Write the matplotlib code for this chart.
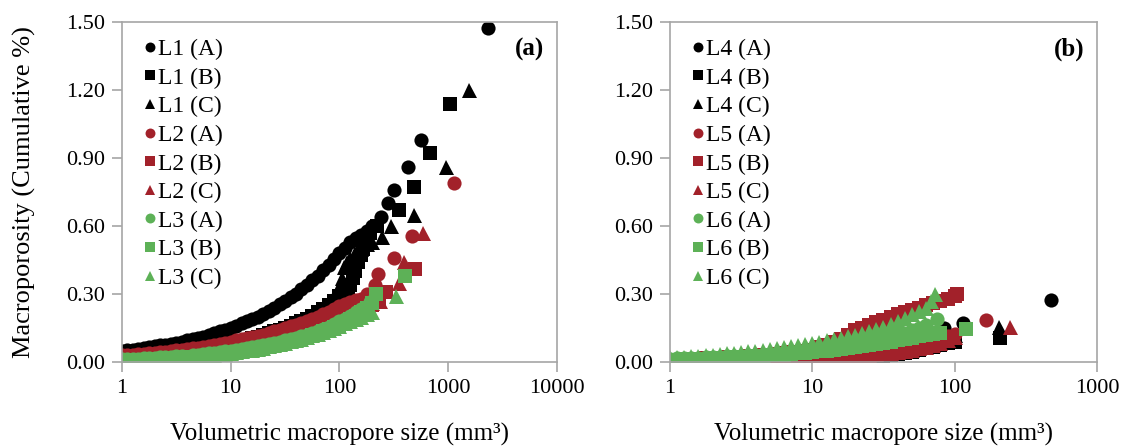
import matplotlib
matplotlib.use("Agg")
import matplotlib.pyplot as plt

plt.rcParams['font.family'] = ['Liberation Serif', 'DejaVu Serif']

# shared size grid (mm3) for the dense part of each curve
grid = [1, 1.12, 1.26, 1.41, 1.58, 1.78, 2, 2.24, 2.51, 2.82, 3.16, 3.55, 3.98, 4.47,
        5.01, 5.62, 6.31, 7.08, 7.94, 8.91, 10, 11.2, 12.6, 14.1, 15.8, 17.8, 20, 22.4,
        25.1, 28.2, 31.6, 35.5, 39.8, 44.7, 50.1, 56.2, 63.1, 70.8, 79.4, 89.1, 100,
        112, 126, 141, 158, 178, 200]

# ---- panel (a)
l1a_y = [.05, .052, .055, .058, .062, .066, .07, .073, .077, .081, .085, .09, .095, .10,
         .105, .112, .12, .127, .135, .142, .15, .16, .17, .18, .19, .20, .21, .225, .24,
         .255, .27, .285, .30, .32, .34, .36, .38, .405, .43, .455, .48, .505, .53, .545,
         .56, .58, .60]
l1a_tx = [240, 277, 315, 430, 565, 2340]
l1a_ty = [0.64, 0.70, 0.76, 0.86, 0.98, 1.475]

l1b_y = [.02, .022, .024, .026, .028, .03, .032, .035, .037, .04, .042, .045, .048, .051,
         .055, .059, .063, .067, .072, .077, .082, .087, .093, .099, .105, .112, .12, .127,
         .135, .142, .15, .16, .17, .18, .19, .205, .22, .235, .25, .27, .29]
l1b_tx = [112, 119, 126, 133, 140, 149, 158, 166, 173, 180, 190, 220, 350, 480, 680, 1035]
l1b_ty = [.31, .32, .34, .37, .40, .44, .47, .50, .52, .55, .57, .60, .67, .77, .92, 1.14]

l1c_y = [.02, .021, .023, .025, .027, .029, .031, .033, .036, .038, .041, .044, .047, .05,
         .054, .058, .062, .066, .071, .076, .081, .086, .092, .098, .104, .111, .118, .125,
         .133, .141, .15, .16, .17, .182, .195, .21, .225, .24, .26, .29, .33]
l1c_tx = [105, 110, 118, 126, 140, 158, 180, 200, 245, 300, 480, 950, 1550]
l1c_ty = [.37, .42, .44, .46, .48, .50, .52, .53, .55, .60, .65, .86, 1.20]

l2a_y = [.03, .031, .033, .035, .037, .039, .041, .043, .046, .048, .051, .054, .057, .06,
         .064, .068, .072, .076, .081, .085, .09, .095, .10, .105, .11, .115, .12, .127,
         .135, .142, .15, .157, .165, .172, .18, .19, .20, .21, .22, .232, .245, .255,
         .265, .272, .28]
l2a_tx = [180, 213, 228, 315, 460, 1120]
l2a_ty = [.30, .34, .39, .46, .555, .79]

l2b_y = [.02, .021, .023, .025, .027, .029, .031, .033, .035, .037, .04, .042, .045, .048,
         .051, .054, .058, .062, .066, .07, .075, .08, .085, .09, .095, .10, .105, .111,
         .117, .123, .13, .137, .145, .152, .16, .167, .175, .182, .19, .197, .205, .212,
         .22, .227, .235, .242, .25]
l2b_tx = [230, 270, 490]
l2b_ty = [.28, .31, .41]

l2c_y = [.02, .022, .024, .026, .028, .03, .033, .035, .038, .04, .043, .046, .049, .052,
         .056, .06, .064, .068, .073, .078, .083, .088, .094, .10, .106, .112, .118, .124,
         .13, .136, .143, .15, .157, .164, .172, .18, .188, .196, .205, .212, .22, .227,
         .235, .242, .25, .255, .26]
l2c_tx = [235, 350, 390, 590]
l2c_ty = [.27, .35, .44, .57]

l3a_y = [.012, .013, .014, .015, .016, .018, .019, .02, .022, .023, .025, .027, .0, .031,
         .033, .035, .038, .041, .044, .047, .05, .053, .057, .061, .065, .069, .074, .079,
         .084, .089, .095, .101, .107, .113, .12, .127, .135, .145, .155, .167, .18, .192,
         .205, .22, .235]
l3a_tx = [190]
l3a_ty = [.265]

l3b_y = [.005, .006, .007, .008, .009, .01, .011, .012, .014, .015, .017, .018, .02, .022,
         .024, .026, .028, .03, .033, .036, .039, .042, .046, .05, .054, .058, .063, .068,
         .073, .078, .084, .09, .096, .103, .11, .117, .125, .135, .145, .155, .165, .177,
         .19, .205, .22, .24, .26]
l3b_tx = [215, 400]
l3b_ty = [.30, .38]

l3c_y = [.005, .006, .007, .008, .009, .01, .011, .012, .014, .015, .017, .018, .02, .022,
         .024, .027, .029, .031, .034, .037, .04, .043, .047, .051, .055, .059, .064, .069,
         .074, .079, .085, .091, .097, .103, .11, .117, .125, .132, .14, .15, .16, .17,
         .18, .19, .20, .21, .22]
l3c_tx = [333]
l3c_ty = [.29]

# ---- panel (b)
l4a_y = [0, 0, 0, 0, .001, .001, .001, .002, .002, .002, .003, .003, .004, .004, .005,
         .006, .007, .008, .009, .01, .012, .014, .016, .018, .021, .024, .027, .03, .034,
         .038, .043, .048, .055, .062, .07, .08, .09]
l4a_tx = [72, 84, 114, 475]
l4a_ty = [.12, .15, .17, .275]

l4b_y = [0, 0, 0, 0, 0, 0, .001, .001, .001, .001, .002, .002, .002, .003, .003, .003,
         .004, .004, .005, .005, .006, .007, .008, .01, .011, .013, .015, .017, .02, .023,
         .026, .03, .034, .039, .045, .052, .06, .067, .075, .082, .09]
l4b_tx = [209]
l4b_ty = [.105]

l4c_y = [0, 0, 0, .001, .001, .001, .002, .002, .003, .003, .004, .004, .005, .005, .006,
         .007, .008, .009, .01, .011, .012, .013, .015, .017, .019, .022, .025, .028, .032,
         .036, .041, .046, .052, .058, .066, .075, .085, .095, .105, .112, .12]
l4c_tx = [204]
l4c_ty = [.156]

l5a_y = [.005, .005, .006, .006, .007, .008, .009, .01, .011, .012, .013, .014, .015, .016,
         .018, .019, .021, .022, .024, .026, .028, .03, .032, .034, .037, .04, .043, .046,
         .05, .054, .058, .062, .067, .072, .078, .084, .09, .097, .105, .115, .125]
l5a_tx = [165]
l5a_ty = [.185]

l5b_y = [.01, .011, .012, .013, .014, .016, .017, .019, .02, .022, .024, .026, .028, .03,
         .033, .036, .039, .042, .046, .05, .055, .065, .075, .087, .10, .12, .14, .152,
         .165, .175, .185, .197, .21, .22, .23, .24, .25, .26, .27, .28, .29]
l5b_tx = [104]
l5b_ty = [.30]

l5c_y = [.003, .003, .004, .004, .005, .005, .006, .006, .007, .007, .008, .009, .01, .01,
         .011, .012, .013, .014, .015, .016, .017, .018, .02, .021, .023, .025, .027, .03,
         .032, .035, .038, .041, .045, .05, .055, .061, .068, .076, .085, .097, .11]
l5c_tx = [245]
l5c_ty = [.155]

l6a_y = [.015, .016, .017, .018, .019, .02, .022, .023, .025, .026, .028, .03, .032, .0,
         .036, .038, .041, .044, .047, .05, .054, .058, .062, .066, .071, .076, .081, .086,
         .092, .098, .104, .112, .12, .13, .14, .152, .165]
l6a_tx = [75]
l6a_ty = [.19]

l6b_y = [.01, .011, .012, .013, .014, .015, .016, .017, .019, .02, .022, .023, .025, .027,
         .029, .031, .033, .035, .038, .041, .044, .047, .05, .053, .057, .061, .065, .069,
         .074, .079, .084, .089, .095, .101, .107, .113, .12, .125, .13]
l6b_tx = [120]
l6b_ty = [.145]

l6c_y = [.02, .022, .024, .026, .028, .031, .033, .036, .038, .041, .044, .047, .05, .054,
         .057, .061, .065, .07, .074, .079, .084, .09, .095, .101, .107, .113, .12, .127,
         .135, .145, .155, .167, .18, .195, .21, .225, .24]
l6c_tx = [68, 73]
l6c_ty = [.27, .30]

yticks = [0.0, 0.3, 0.6, 0.9, 1.2, 1.5]

BLACK = "black"
RED = "#a2212a"
GREEN = "#5db157"
GRAY = "#a6a6a6"

panel_a = [
    ("L1 (A)", l1a_y, l1a_tx, l1a_ty, BLACK, "o"),
    ("L1 (B)", l1b_y, l1b_tx, l1b_ty, BLACK, "s"),
    ("L1 (C)", l1c_y, l1c_tx, l1c_ty, BLACK, "^"),
    ("L2 (A)", l2a_y, l2a_tx, l2a_ty, RED, "o"),
    ("L2 (B)", l2b_y, l2b_tx, l2b_ty, RED, "s"),
    ("L2 (C)", l2c_y, l2c_tx, l2c_ty, RED, "^"),
    ("L3 (A)", l3a_y, l3a_tx, l3a_ty, GREEN, "o"),
    ("L3 (B)", l3b_y, l3b_tx, l3b_ty, GREEN, "s"),
    ("L3 (C)", l3c_y, l3c_tx, l3c_ty, GREEN, "^"),
]
panel_b = [
    ("L4 (A)", l4a_y, l4a_tx, l4a_ty, BLACK, "o"),
    ("L4 (B)", l4b_y, l4b_tx, l4b_ty, BLACK, "s"),
    ("L4 (C)", l4c_y, l4c_tx, l4c_ty, BLACK, "^"),
    ("L5 (A)", l5a_y, l5a_tx, l5a_ty, RED, "o"),
    ("L5 (B)", l5b_y, l5b_tx, l5b_ty, RED, "s"),
    ("L5 (C)", l5c_y, l5c_tx, l5c_ty, RED, "^"),
    ("L6 (A)", l6a_y, l6a_tx, l6a_ty, GREEN, "o"),
    ("L6 (B)", l6b_y, l6b_tx, l6b_ty, GREEN, "s"),
    ("L6 (C)", l6c_y, l6c_tx, l6c_ty, GREEN, "^"),
]

msize = {"o": 10.2, "s": 9.4, "^": 10.8}


def draw_panel(ax, series, xmax, tag):
    for label, ys, tx, ty, color, mk in series:
        xs = grid[:len(ys)] + tx
        ax.plot(xs, list(ys) + ty, ls="none", marker=mk, ms=msize[mk],
                color=color, mew=0, label=label)
    ax.set_xscale("log")
    ax.set_xlim(1, xmax)
    ax.set_ylim(0, 1.5)
    ax.set_yticks(yticks)
    ax.set_yticklabels(["%.2f" % v for v in yticks])
    ax.minorticks_off()
    ax.xaxis.set_major_formatter(matplotlib.ticker.FuncFormatter(lambda v, p: "%d" % v))
    for s in ax.spines.values():
        s.set_color(GRAY)
        s.set_linewidth(1.2)
    ax.tick_params(axis="both", direction="out", length=7, width=1.2, color=GRAY,
                   labelsize=16, pad=5)
    ax.set_xlabel("Volumetric macropore size (mm³)", fontsize=18, labelpad=18)
    ax.text(0.97, 0.92, tag, transform=ax.transAxes, fontsize=18,
            fontweight="bold", ha="right", va="center")
    ax.legend(loc="upper left", bbox_to_anchor=(0.012, 1.0), frameon=False,
              fontsize=17, handlelength=0.5, handletextpad=0.12,
              labelspacing=0.3, markerscale=0.7, borderaxespad=0.3)


fig = plt.figure(figsize=(11.22, 4.46), dpi=100)
ax1 = fig.add_axes([0.1087, 0.1883, 0.3877, 0.7623])
ax2 = fig.add_axes([0.5971, 0.1883, 0.3806, 0.7623])

draw_panel(ax1, panel_a, 10000, "(a)")
draw_panel(ax2, panel_b, 1000, "(b)")
ax1.set_ylabel("Macroporosity (Cumulative %)", fontsize=19, labelpad=22)

fig.savefig("out.png", dpi=100)
